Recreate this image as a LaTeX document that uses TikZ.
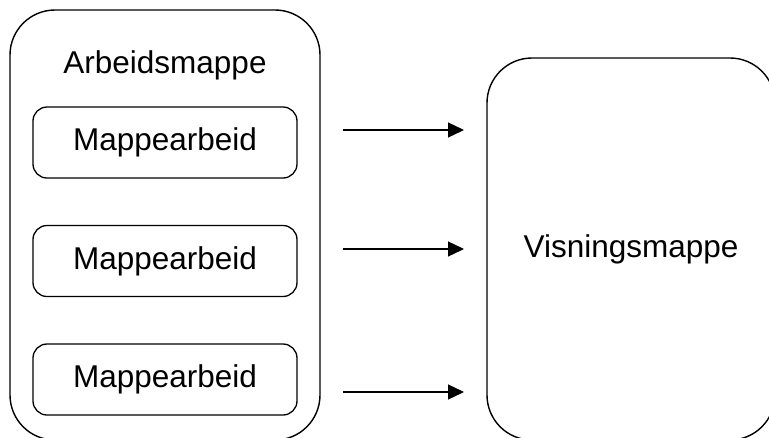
\documentclass[tikz,border=0pt]{standalone}
\usepackage{fontspec}
\setmainfont{Liberation Sans}
\usetikzlibrary{positioning, arrows.meta}

\begin{document}
\begin{tikzpicture}[x=1pt, y=-1pt,
          folder/.style={draw, line width=1.4pt, rounded corners=45pt},
          work/.style={draw, line width=1.3pt, rounded corners=14pt,
                       minimum width=264pt, minimum height=71pt},
          flow/.style={line width=1.3pt, -{Triangle[length=16pt, width=15pt]}},
          every node/.style={font=\fontsize{31.5}{38}\selectfont}]
          \useasboundingbox (0,0) rectangle (769,437);
          \clip (0,0) rectangle (769,437);

          % left folder and its parts
          \node[folder, minimum width=310pt, minimum height=430pt] (arbeid) at (165,225) {};
          \node (arbeidlabel) at (165,65) {Arbeidsmappe};
          \node[work] (m1) at (165,142.5) {Mappearbeid};
          \node[work] (m2) at (165,261) {Mappearbeid};
          \node[work] (m3) at (165,379.5) {Mappearbeid};

          % right folder
          \node[folder, minimum width=288pt, minimum height=382pt] (visning) at (631,249) {Visningsmappe};

          % arrows
          \coordinate (a1) at (343,130);  \coordinate (b1) at (464,130);
          \coordinate (a2) at (343,249);  \coordinate (b2) at (464,249);
          \coordinate (a3) at (343,392);  \coordinate (b3) at (464,392);
          \draw[flow] (a1) -- (b1);
          \draw[flow] (a2) -- (b2);
          \draw[flow] (a3) -- (b3);
        \end{tikzpicture}
\end{document}
